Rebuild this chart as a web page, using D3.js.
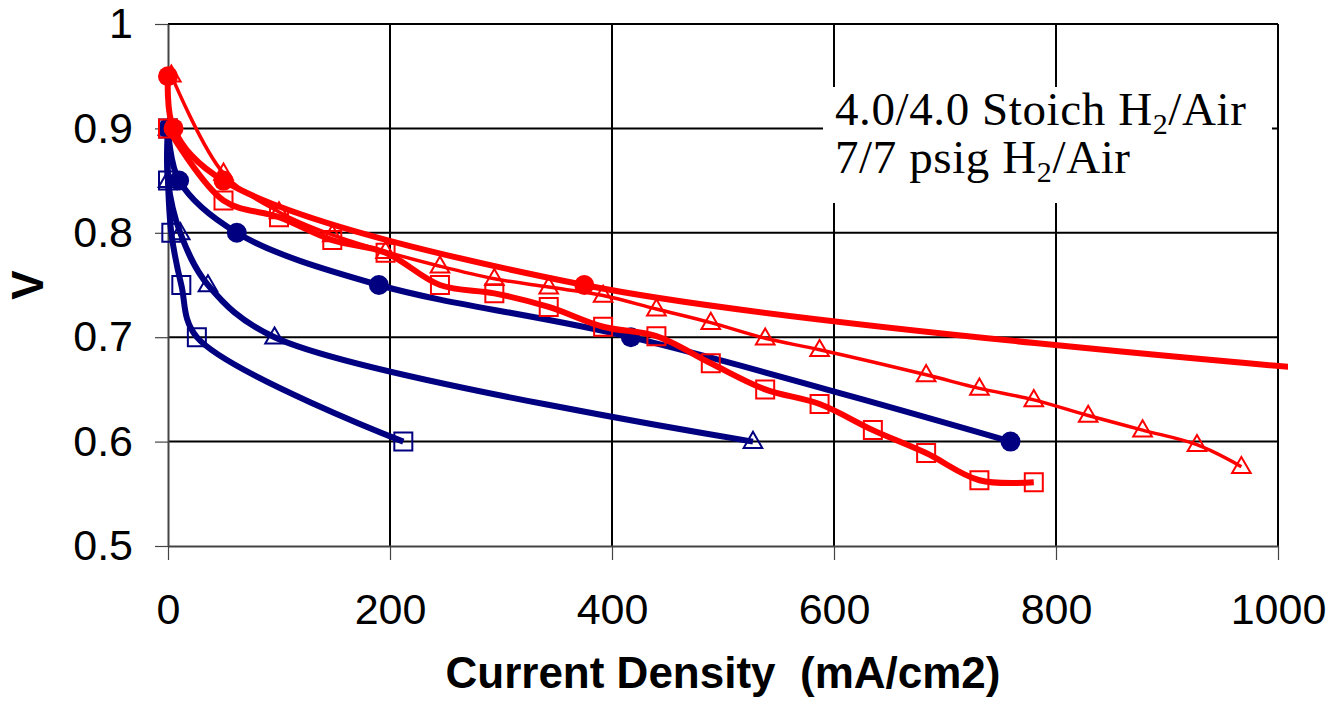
<!DOCTYPE html>
<meta charset="utf-8" />
<script src="https://cdn.jsdelivr.net/npm/d3@7"></script>
<html>
<head>
<style>
  body { margin: 0; background: #fff; }
  text { font-family: "Liberation Sans", Arial, sans-serif; }
  .note text { font-family: "Liberation Serif", "DejaVu Serif", serif; }
</style>
</head>
<body>
<script>
// --- data ---
const xTicks = [0, 200, 400, 600, 800, 1000];
const xTickLabels = ["0", "200", "400", "600", "800", "1000"];
const yTicks = [0.5, 0.6, 0.7, 0.8, 0.9, 1.0];
const yTickLabels = ["0.5", "0.6", "0.7", "0.8", "0.9", "1"];

// blue series
const blueSquareX = [0, 0, 3, 12, 26, 212];
const blueSquareV = [0.90, 0.85, 0.80, 0.75, 0.70, 0.60];
const blueTriX = [0, 0, 11, 36, 96, 527];
const blueTriV = [0.90, 0.85, 0.80, 0.75, 0.70, 0.60];
const blueCircleX = [0, 10, 62, 190, 417, 759];
const blueCircleV = [0.90, 0.85, 0.80, 0.75, 0.70, 0.60];

// red series
const redSquareX = [0, 50, 100, 148, 196, 245, 294, 343, 392, 440, 489, 538, 587, 635, 683, 731, 780];
const redSquareV = [0.90, 0.831, 0.815, 0.793, 0.781, 0.750, 0.742, 0.729, 0.710, 0.701, 0.675, 0.650, 0.636, 0.611, 0.589, 0.563, 0.561];
const redTriX = [3, 50, 100, 148, 196, 245, 294, 343, 392, 440, 489, 538, 587, 683, 731, 780, 829, 878, 927, 967];
const redTriV = [0.951, 0.857, 0.820, 0.798, 0.782, 0.768, 0.756, 0.748, 0.740, 0.727, 0.714, 0.699, 0.688, 0.664, 0.651, 0.640, 0.625, 0.611, 0.597, 0.576];
const redCircleX = [0, 5, 50, 375, 1050];
const redCircleV = [0.95, 0.90, 0.85, 0.75, 0.668];

const noteLines = [["4.0/4.0 Stoich H", "2", "/Air"], ["7/7 psig H", "2", "/Air"]];

var width = 1331, height = 709;
var plotLeft = 168, plotRight = 1278, plotTop = 24, plotBottom = 546;

var x = d3.scaleLinear().domain([0, 1000]).range([plotLeft, plotRight]);
var y = d3.scaleLinear().domain([0.5, 1.0]).range([plotBottom, plotTop]);

var svg = d3.select("body").append("svg")
    .attr("width", width)
    .attr("height", height);

svg.append("defs").append("clipPath").attr("id", "plotclip")
    .append("rect")
    .attr("x", plotLeft - 20).attr("y", plotTop - 20)
    .attr("width", plotRight - plotLeft + 30).attr("height", plotBottom - plotTop + 40);

// gridlines (incl. top/right border)
svg.append("g").selectAll("line")
    .data(yTicks.filter(d => d > 0.5))
    .enter().append("line")
    .attr("x1", plotLeft).attr("x2", plotRight)
    .attr("y1", d => y(d)).attr("y2", d => y(d))
    .attr("stroke", "#000").attr("stroke-width", 2);
svg.append("g").selectAll("line")
    .data(xTicks.filter(d => d > 0))
    .enter().append("line")
    .attr("y1", plotTop).attr("y2", plotBottom)
    .attr("x1", d => x(d)).attr("x2", d => x(d))
    .attr("stroke", "#000").attr("stroke-width", 2);

// text box (white, no border) covering grid
var note = svg.append("g").attr("class", "note");
note.append("rect")
    .attr("x", 823).attr("y", 87)
    .attr("width", 449).attr("height", 116)
    .attr("fill", "#fff");
noteLines.forEach(function (parts, i) {
    var t = note.append("text")
        .attr("x", 835).attr("y", 125 + i * 48)
        .attr("font-size", 47)
        .attr("letter-spacing", 0.6)
        .attr("fill", "#000");
    t.append("tspan").text(parts[0]);
    t.append("tspan").text(parts[1]).attr("font-size", 30).attr("dy", 9);
    t.append("tspan").text(parts[2]).attr("dy", -9);
});

// axes
var xAxis = d3.axisBottom(x)
    .tickValues(xTicks)
    .tickFormat((d, i) => xTickLabels[i])
    .tickSizeInner(14).tickSizeOuter(0).tickPadding(33);
var yAxis = d3.axisLeft(y)
    .tickValues(yTicks)
    .tickFormat((d, i) => yTickLabels[i])
    .tickSizeInner(13).tickSizeOuter(0).tickPadding(22);

var gx = svg.append("g").attr("transform", "translate(0," + plotBottom + ")").call(xAxis);
var gy = svg.append("g").attr("transform", "translate(" + plotLeft + ",0)").call(yAxis);
[gx, gy].forEach(function (g) {
    g.select(".domain").attr("stroke", "#444").attr("stroke-width", 2);
    g.selectAll(".tick line").attr("stroke", "#444").attr("stroke-width", 1.2);
    g.selectAll(".tick text")
        .attr("font-size", 43)
        .attr("font-family", "Liberation Sans, Arial, sans-serif")
        .attr("fill", "#000");
});

svg.append("text")
    .attr("x", (plotLeft + plotRight) / 2).attr("y", 688)
    .attr("text-anchor", "middle")
    .attr("font-size", 44).attr("font-weight", "bold")
    .style("white-space", "pre")
    .text("Current Density  (mA/cm2)");

svg.append("text")
    .attr("transform", "translate(43," + (plotTop + plotBottom) / 2 + ") rotate(-90)")
    .attr("text-anchor", "middle")
    .attr("font-size", 44).attr("font-weight", "bold")
    .text("V");

// series
var navy = "#000080", red = "#FF0000";
var series = [
    { xs: blueSquareX, vs: blueSquareV, color: navy, width: 6, marker: "square", fill: "none" },
    { xs: blueTriX, vs: blueTriV, color: navy, width: 6, marker: "triangle", fill: "none" },
    { xs: blueCircleX, vs: blueCircleV, color: navy, width: 6, marker: "circle", fill: navy },
    { xs: redSquareX, vs: redSquareV, color: red, width: 6, marker: "square", fill: "none" },
    { xs: redTriX, vs: redTriV, color: red, width: 3.5, marker: "triangle", fill: "none" },
    { xs: redCircleX, vs: redCircleV, color: red, width: 6, marker: "circle", fill: red }
];

var line = d3.line()
    .x(d => x(d[0]))
    .y(d => y(d[1]))
    .curve(d3.curveCatmullRom.alpha(0.5));

var symbols = {
    square: d3.symbol().type(d3.symbolSquare).size(18 * 18),
    triangle: d3.symbol().type(d3.symbolTriangle).size(150),
    circle: d3.symbol().type(d3.symbolCircle).size(Math.PI * 10 * 10)
};

series.forEach(function (s) {
    var pts = s.xs.map((v, i) => [v, s.vs[i]]);
    var g = svg.append("g");
    g.append("path")
        .datum(pts)
        .attr("clip-path", "url(#plotclip)")
        .attr("d", line)
        .attr("fill", "none")
        .attr("stroke", s.color)
        .attr("stroke-width", s.width)
        .attr("stroke-linejoin", "round");
    g.selectAll(".m")
        .data(pts.filter(p => p[0] <= 1000))
        .enter().append("path")
        .attr("class", "m")
        .attr("transform", p => "translate(" + x(p[0]) + "," + (y(p[1]) + (s.marker === "triangle" ? 1 : 0)) + ")")
        .attr("d", symbols[s.marker])
        .attr("fill", s.fill)
        .attr("stroke", s.color)
        .attr("stroke-width", s.marker === "circle" ? 0 : 2);
});
</script>
</body>
</html>
